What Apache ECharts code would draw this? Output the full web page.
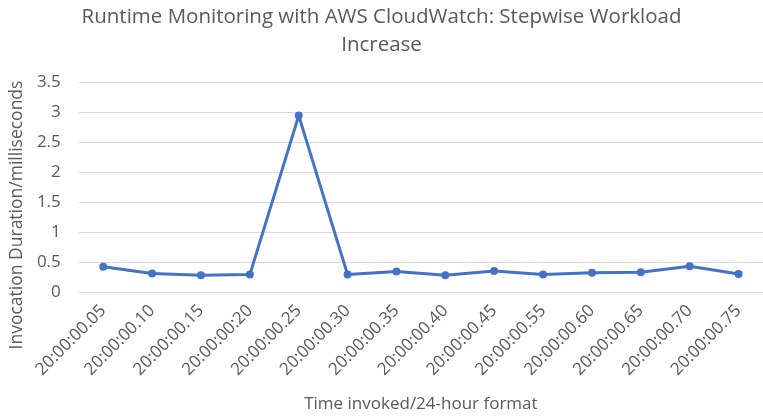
<!DOCTYPE html>
<html>
<head>
<meta charset="utf-8">
<script src="https://cdn.jsdelivr.net/npm/echarts@6/dist/echarts.min.js"></script>
<style>
  html, body { margin: 0; padding: 0; background: #fff; }
  #chart { width: 763px; height: 419px; }
</style>
</head>
<body>
<div id="chart"></div>
<script>
const times = [
  "20:00:00.05", "20:00:00.10", "20:00:00.15", "20:00:00:20", "20:00:00.25",
  "20:00:00.30", "20:00:00.35", "20:00:00.40", "20:00:00.45", "20:00:00.55",
  "20:00:00.60", "20:00:00.65", "20:00:00.70", "20:00:00.75"
];
const durations = [0.42, 0.31, 0.28, 0.29, 2.94, 0.29, 0.34, 0.28, 0.35, 0.29, 0.32, 0.33, 0.43, 0.30];

const font = "'Open Sans', sans-serif";
const grey = "#595959";

const chart = echarts.init(document.getElementById("chart"), null, { renderer: "canvas" });

chart.setOption({
  animation: false,
  backgroundColor: "#fff",
  title: {
    text: "Runtime Monitoring with AWS CloudWatch: Stepwise Workload\nIncrease",
    left: "center",
    top: 0,
    padding: [3, 5, 5, 23],
    textStyle: {
      fontFamily: font,
      fontSize: 20.5,
      fontWeight: "normal",
      color: grey,
      lineHeight: 28,
    },
  },
  grid: { left: 77, right: -9, top: 82, bottom: 127 },
  xAxis: {
    type: "category",
    data: times,
    boundaryGap: true,
    axisLine: { show: false },
    axisTick: { show: false },
    axisLabel: {
      rotate: 45,
      interval: 0,
      margin: 16,
      fontFamily: font,
      fontSize: 17,
      color: grey,
    },
    name: "Time invoked/24-hour format",
    nameLocation: "middle",
    nameGap: 104,
    nameTextStyle: { fontFamily: font, fontSize: 17, color: grey },
  },
  yAxis: {
    type: "value",
    min: 0,
    max: 3.5,
    interval: 0.5,
    axisLine: { show: false },
    axisTick: { show: false },
    splitLine: { lineStyle: { color: "#d9d9d9", width: 1 } },
    axisLabel: {
      fontFamily: font,
      fontSize: 17,
      color: grey,
      margin: 18,
    },
    name: "Invocation Duration/milliseconds",
    nameLocation: "middle",
    nameGap: 49,
    nameTextStyle: { fontFamily: font, fontSize: 17.5, color: grey, padding: [0, 56, 0, 0] },
  },
  series: [
    {
      type: "line",
      data: durations,
      symbol: "circle",
      symbolSize: 8,
      lineStyle: { color: "#4472C4", width: 3 },
      itemStyle: { color: "#4472C4" },
    },
  ],
});
</script>
</body>
</html>
